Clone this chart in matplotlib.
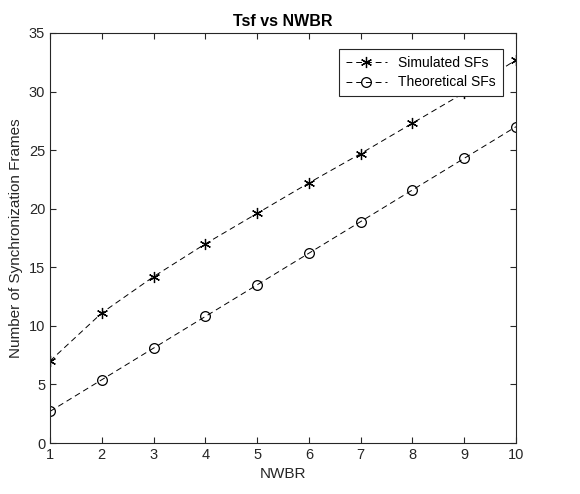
import matplotlib.pyplot as plt

plt.rcParams['font.family'] = ['Liberation Sans', 'DejaVu Sans']

nwbr = [1, 2, 3, 4, 5, 6, 7, 8, 9, 10]
simulated = [7.0, 11.1, 14.2, 17.0, 19.6, 22.2, 24.7, 27.3, 29.9, 32.7]
theoretical = [2.7, 5.4, 8.1, 10.8, 13.5, 16.2, 18.9, 21.6, 24.3, 27.0]

fig = plt.figure(figsize=(5.8, 4.94), dpi=100)
ax = fig.add_axes([0.0862, 0.1032, 0.8034, 0.8300])

# matlab-style asterisk marker (vertical stroke)
ax.plot(nwbr, simulated, color='k', linestyle='--', marker=(6, 2, 0), markersize=8,
        markeredgewidth=0.9, linewidth=0.7, dashes=(6, 4), label='Simulated SFs')
ax.plot(nwbr, theoretical, color='k', linestyle='--', marker='o', markersize=7,
        markerfacecolor='none', markeredgewidth=0.9, linewidth=0.7, dashes=(6, 4),
        label='Theoretical SFs')

ax.set_xlim(1, 10)
ax.set_ylim(0, 35)
ax.set_xticks(range(1, 11))
ax.set_yticks(range(0, 36, 5))
ax.tick_params(direction='in', top=True, right=True, labelsize=10.5,
               colors='#262626', length=4)
for s in ax.spines.values():
    s.set_color('#262626')
    s.set_linewidth(0.8)

ax.set_title('Tsf vs NWBR', fontsize=11.5, fontweight='bold', pad=5)
ax.set_xlabel('NWBR', fontsize=11, color='#262626')
ax.set_ylabel('Number of Synchronization Frames', fontsize=11, color='#262626')

leg = ax.legend(loc='upper right', bbox_to_anchor=(0.972, 0.961), borderaxespad=0,
                fontsize=10, fancybox=False, framealpha=1, edgecolor='#262626',
                handlelength=3, borderpad=0.5, labelspacing=0.4)
leg.get_frame().set_linewidth(0.8)

fig.savefig('out.png', dpi=100)
